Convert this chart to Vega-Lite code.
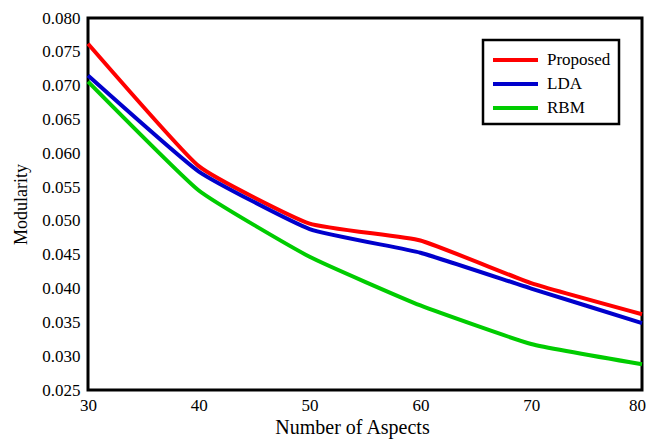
{
  "$schema": "https://vega.github.io/schema/vega-lite/v6.json",
  "width": 554,
  "height": 372,
  "autosize": {"type": "none"},
  "padding": {"left": 88, "top": 18, "right": 6, "bottom": 52},
  "background": "white",
  "config": {
    "font": "Liberation Serif",
    "view": {"stroke": "black", "strokeWidth": 3},
    "axis": {
      "grid": false,
      "ticks": false,
      "domain": false,
      "labelFont": "Liberation Serif",
      "labelFontSize": 17,
      "labelColor": "black",
      "titleFont": "Liberation Serif",
      "titleFontSize": 20,
      "titleFontWeight": "normal",
      "titleColor": "black"
    }
  },
  "data": {
    "values": [
      {"aspects": 30, "method": "Proposed", "value": 0.0762},
      {"aspects": 40, "method": "Proposed", "value": 0.0581},
      {"aspects": 50, "method": "Proposed", "value": 0.0496},
      {"aspects": 60, "method": "Proposed", "value": 0.0471},
      {"aspects": 70, "method": "Proposed", "value": 0.0408},
      {"aspects": 80, "method": "Proposed", "value": 0.0362},
      {"aspects": 30, "method": "LDA", "value": 0.0715},
      {"aspects": 40, "method": "LDA", "value": 0.0573},
      {"aspects": 50, "method": "LDA", "value": 0.0488},
      {"aspects": 60, "method": "LDA", "value": 0.0453},
      {"aspects": 70, "method": "LDA", "value": 0.0400},
      {"aspects": 80, "method": "LDA", "value": 0.0349},
      {"aspects": 30, "method": "RBM", "value": 0.0706},
      {"aspects": 40, "method": "RBM", "value": 0.0545},
      {"aspects": 50, "method": "RBM", "value": 0.0447},
      {"aspects": 60, "method": "RBM", "value": 0.0375},
      {"aspects": 70, "method": "RBM", "value": 0.0318},
      {"aspects": 80, "method": "RBM", "value": 0.0288}
    ]
  },
  "mark": {"type": "line", "strokeWidth": 4, "interpolate": "cardinal", "tension": 0.6},
  "encoding": {
    "x": {
      "field": "aspects",
      "type": "quantitative",
      "scale": {"domain": [30, 80], "nice": false, "zero": false},
      "axis": {
        "values": [30, 40, 50, 60, 70, 80],
        "title": "Number of Aspects",
        "labelPadding": 7,
        "titlePadding": 4,
        "titleX": 264,
        "labelFlush": false,
        "labelOffset": {"condition": {"test": "datum.value == 80", "value": -5}, "value": 0}
      }
    },
    "y": {
      "field": "value",
      "type": "quantitative",
      "scale": {"domain": [0.025, 0.08], "nice": false, "zero": false},
      "axis": {"values": [0.025, 0.03, 0.035, 0.04, 0.045, 0.05, 0.055, 0.06, 0.065, 0.07, 0.075, 0.08], "format": ".3f", "title": "Modularity", "labelPadding": 8, "titlePadding": 11, "titleFontSize": 18}
    },
    "color": {
      "field": "method",
      "type": "nominal",
      "sort": ["Proposed", "LDA", "RBM"],
      "scale": {"domain": ["Proposed", "LDA", "RBM"], "range": ["#ff0000", "#0000cc", "#00cc00"]},
      "legend": {
        "title": null,
        "orient": "none",
        "legendX": 395,
        "legendY": 22,
        "symbolType": "M -1 0 L 3.5 0",
        "symbolSize": 400,
        "symbolStrokeWidth": 4,
        "labelFont": "Liberation Serif",
        "labelFontSize": 17,
        "labelColor": "black",
        "labelOffset": 32,
        "padding": 8,
        "strokeColor": "black",
        "fillColor": "white",
        "rowPadding": 4,
        "encode": {"legend": {"update": {"strokeWidth": {"value": 2.5}}}}
      }
    }
  }
}
